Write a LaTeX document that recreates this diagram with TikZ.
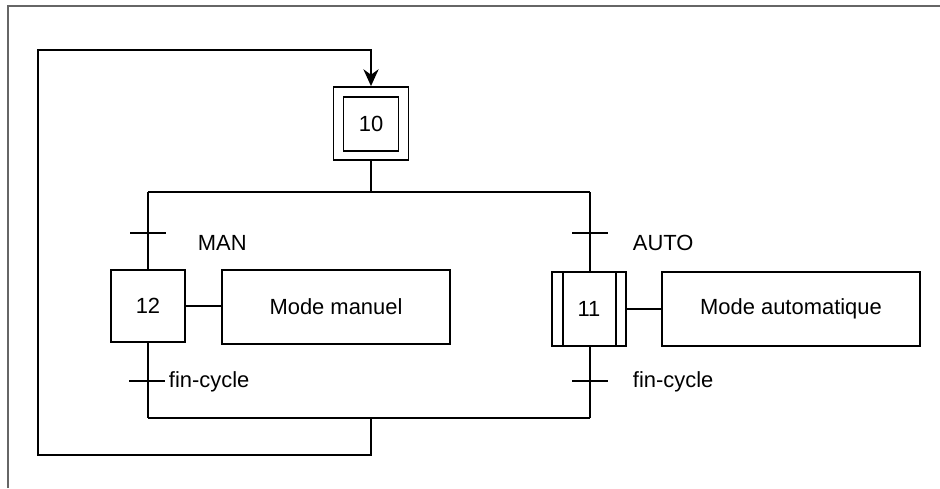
\documentclass[tikz,border=0pt]{standalone}
\usepackage{fontspec}
\setmainfont{Liberation Sans}
\usetikzlibrary{arrows.meta, calc}

\begin{document}
\begin{tikzpicture}[x=0.025cm,y=-0.025cm,line width=1.3pt,>={Stealth[length=4.2mm,width=3.8mm]},font=\fontsize{15.6}{18}\selectfont]
\tikzset{etape/.style={draw,minimum width=1.85cm,minimum height=1.8cm,inner sep=0pt},action/.style={draw,minimum height=1.85cm,inner sep=0pt},recep/.style={anchor=west,inner sep=0pt}}
\useasboundingbox (0,0) rectangle (940,488);
\draw[gray!80!black,line width=0.8pt] (8,488)--(8,6)--(940,6);
% etape initiale
\node[etape,minimum width=1.875cm,minimum height=1.825cm] (s10) at (371,123.5){};\node[etape,minimum width=1.375cm,minimum height=1.35cm] (s10i) at (371,124){10};
\coordinate (hg) at (148,192);\coordinate (hd) at (590,192);\coordinate (bg) at (148,418);\coordinate (bd) at (590,418);
\draw (s10.south)--(s10.south |- hg);\draw (hg)--(hd);\draw (bg)--(bd);
% branche manuelle
\node[etape] (s12) at (148,306){12};\node[action,minimum width=5.7cm] (a12) at (336,307){Mode manuel};
\draw (hg)--(s12.north);\draw (s12.south)--(bg);\draw (s12.east)--(s12.east -| a12.west);
\coordinate (t1) at (148,233);\coordinate (t3) at (148,381);
\draw ($(t1)+(-18,0)$)--($(t1)+(18,0)$);\draw ($(t3)+(-19,0)$)--($(t3)+(17,0)$);
\node[recep] (r1) at (197,243){MAN};\node[recep] (r3) at (168,382){fin-cycle};
% branche auto
\node[etape,minimum height=1.85cm] (s11) at (589,309){11};\node[action,minimum width=6.45cm] (a11) at (791,309){Mode automatique};
\draw ($(s11.north west)+(12,0)$)--($(s11.south west)+(12,0)$);\draw ($(s11.north east)+(-11,0)$)--($(s11.south east)+(-11,0)$);
\draw (hd)--(hd |- s11.north);\draw (hd |- s11.south)--(bd);\draw (s11.east)--(a11.west);
\coordinate (t2) at (590,233);\coordinate (t4) at (590,381);
\draw ($(t2)+(-18,0)$)--($(t2)+(18,0)$);\draw ($(t4)+(-18,0)$)--($(t4)+(18,0)$);
\node[recep] (r2) at (632,243){AUTO};\node[recep] (r4) at (632,382){fin-cycle};
% retour
\coordinate (retour) at (371,418);\coordinate (rb) at (38,455);\coordinate (rh) at (38,50);
\draw[->] (retour) |- (rb)--(rh) -| (s10.north);
\end{tikzpicture}
\end{document}
